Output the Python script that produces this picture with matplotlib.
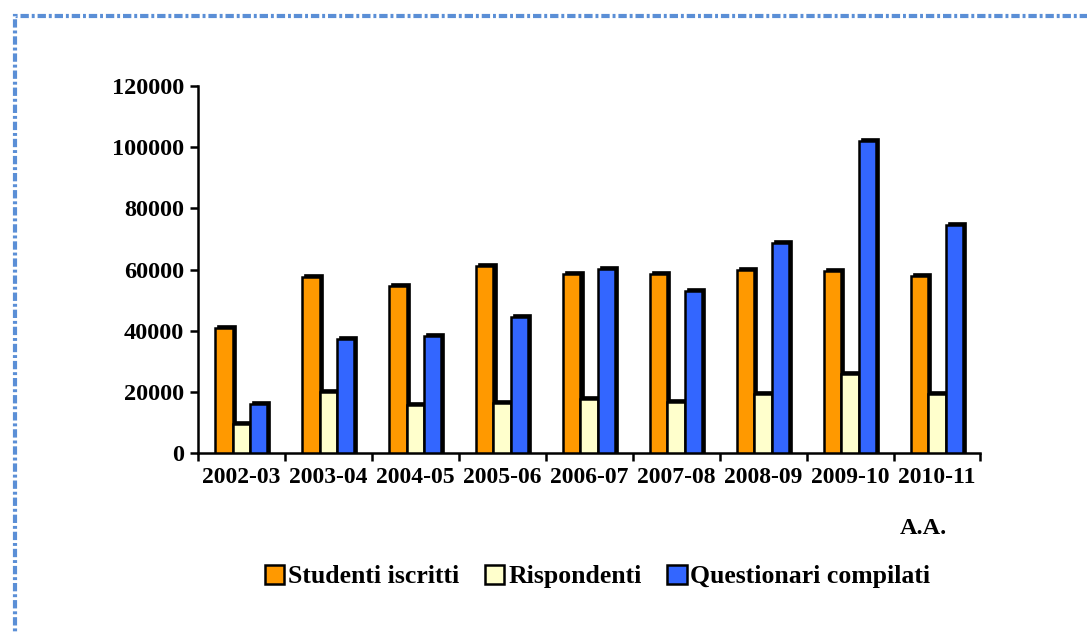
import matplotlib.pyplot as plt
from matplotlib.patches import Rectangle
import numpy as np

# Dati
anni = ["2002-03", "2003-04", "2004-05", "2005-06", "2006-07",
        "2007-08", "2008-09", "2009-10", "2010-11"]
iscritti = [40800, 57500, 54600, 61100, 58400, 58400, 59800, 59500, 57900]
rispondenti = [9500, 20000, 15700, 16300, 17700, 16700, 19300, 25800, 19300]
questionari = [16000, 37300, 38300, 44500, 60200, 53000, 68700, 102000, 74600]

serie = [("Studenti iscritti", iscritti, "#FF9900"),
         ("Rispondenti", rispondenti, "#FFFFCC"),
         ("Questionari compilati", questionari, "#3366FF")]

plt.rcParams["font.family"] = ["Liberation Serif", "DejaVu Serif"]
plt.rcParams["font.weight"] = "bold"

fig = plt.figure(figsize=(10.87, 6.32), dpi=100)
ax = fig.add_axes([0.182, 0.283, 0.72, 0.581])

x = np.arange(len(anni))
w = 0.2
dx = 0.035
dy = 700

for i, (nome, val, col) in enumerate(serie):
    pos = x + (i - 1) * w
    # lato in profondita' (effetto 3D)
    ax.bar(pos + dx, np.array(val) + dy, width=w, color="black",
           edgecolor="black", linewidth=1.2, zorder=2)
    ax.bar(pos, val, width=w, color=col, edgecolor="black",
           linewidth=1.8, label=nome, zorder=3)

ax.set_xlim(-0.5, len(anni) - 0.5)
ax.set_ylim(0, 120000)
ax.set_yticks(range(0, 120001, 20000))
ax.set_xticks(x)
ax.set_xticklabels(anni)
ax.set_xticks(np.arange(-0.5, len(anni)), minor=True)
ax.tick_params(axis="x", which="major", length=0, labelsize=17, pad=10)
ax.tick_params(axis="x", which="minor", length=6, width=1.8, direction="out")
ax.tick_params(axis="y", length=6, width=1.8, labelsize=17.5, pad=4)

for s in ["top", "right"]:
    ax.spines[s].set_visible(False)
for s in ["left", "bottom"]:
    ax.spines[s].set_linewidth(1.8)

fig.text(0.828, 0.164, "A.A.", fontsize=17.5, fontweight="bold", ha="left", va="center")

fig.legend(loc="center", bbox_to_anchor=(0.55, 0.088), ncol=3, frameon=False,
           fontsize=18.5, handlelength=0.75, handleheight=0.75, handletextpad=0.15,
           columnspacing=1.0)

# cornice tratteggiata blu
bordo = Rectangle((15 / 1087, -0.1), 1.2, 1 - 16 / 632 + 0.1,
                  transform=fig.transFigure, fill=False, edgecolor="#5B8FD6",
                  linewidth=3, linestyle=(0, (2, 0.7, 0.7, 0.7)))
fig.patches.append(bordo)

fig.savefig("out.png", dpi=100)
